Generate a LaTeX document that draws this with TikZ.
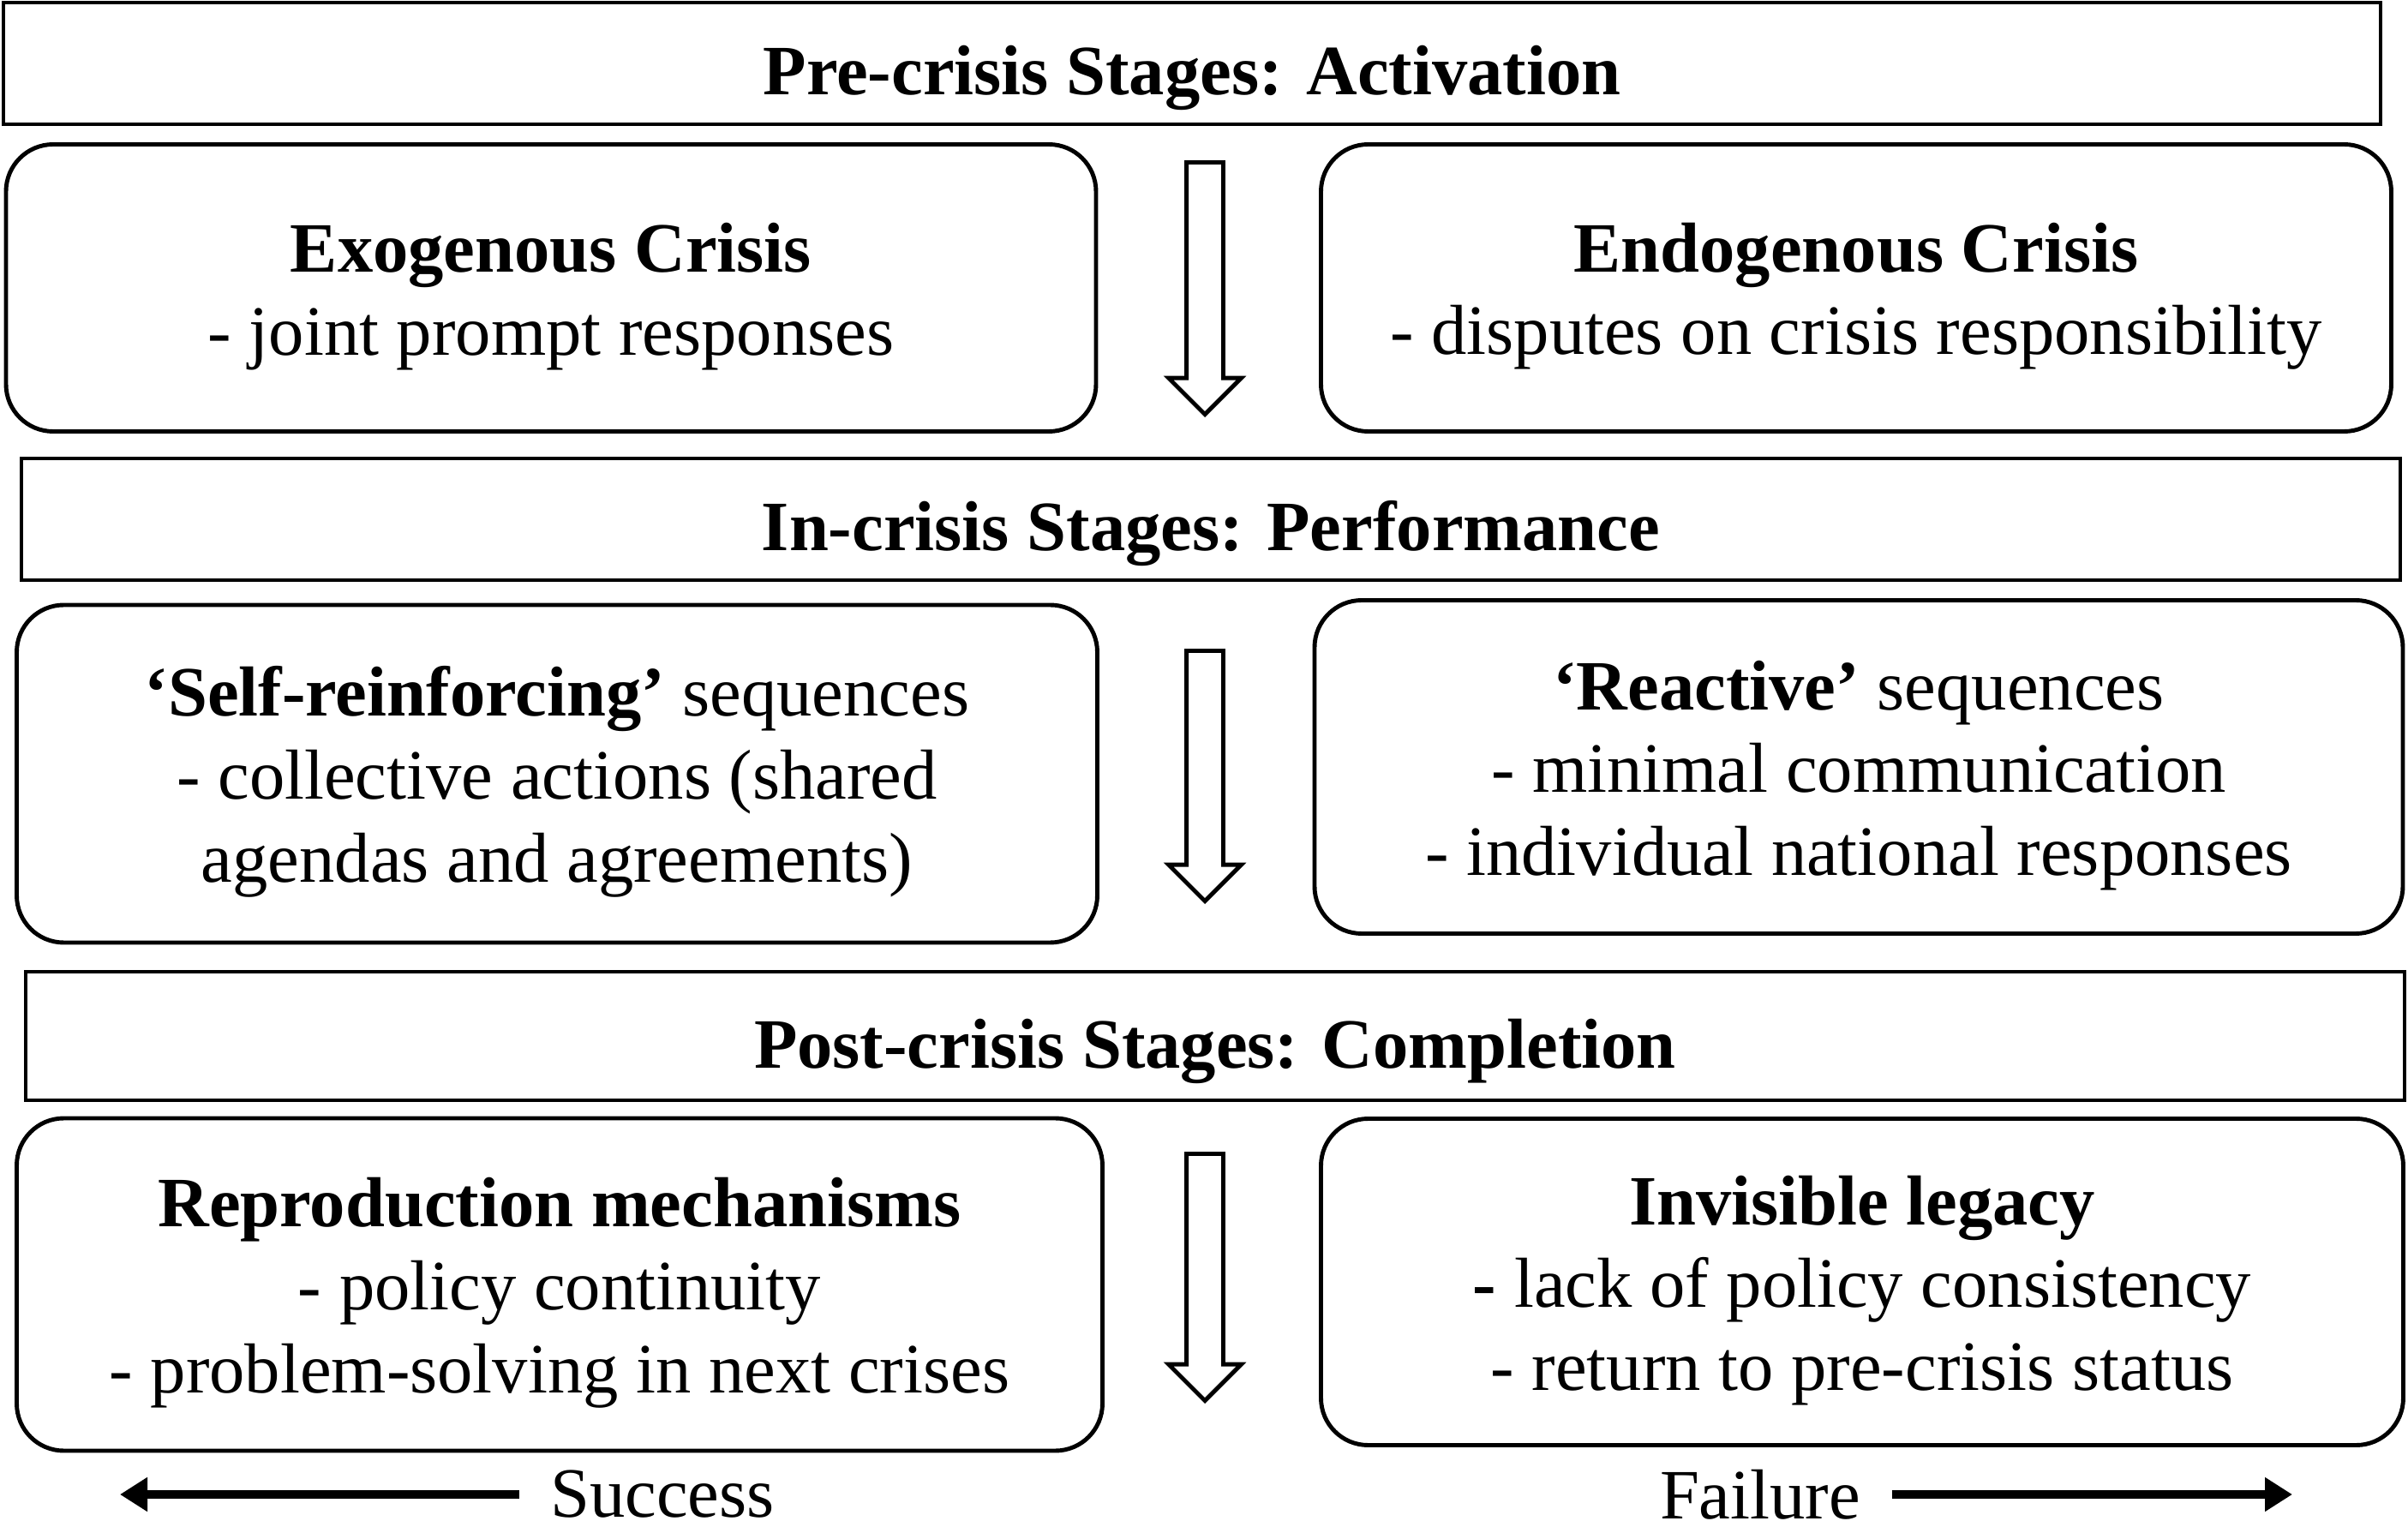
\documentclass[tikz,border=0pt]{standalone}
\usepackage{fontspec}
\setmainfont{Liberation Serif}
\usetikzlibrary{
    shapes.arrows,
    arrows.meta,
    positioning
}
\newcommand{\stagehead}[1]{\rule{0pt}{0.77cm}\textbf{#1}}

\begin{document}
\begin{tikzpicture}[
            font=\fontsize{23.5}{27.5}\selectfont,
            header/.style={draw, line width=1.4pt, inner sep=0pt, font=\fontsize{23.5}{27.5}\selectfont\bfseries,
                           text height=0.74cm, text depth=0cm},
            stage/.style={draw, line width=1.4pt, rounded corners=0.55cm, align=center, inner sep=0pt},
            downarr/.style={draw, line width=1.4pt, single arrow, shape border rotate=270, anchor=tip,
                            single arrow head extend=0.21cm, inner xsep=0.19cm, inner ysep=0pt},
            outcome/.style={inner xsep=0.36cm, inner ysep=0pt},
            flow/.style={-{Triangle[length=0.32cm, width=0.38cm]}, line width=2.6pt}
        ]
            \useasboundingbox (0,0) rectangle (28.1,-17.96);

            % stage headers
            \node[header, minimum width=27.74cm, minimum height=1.42cm] (pre) at (13.91, -0.74)
                {Pre-crisis Stages: Activation};
            \node[header, minimum width=27.76cm, minimum height=1.42cm] (in) at (14.13, -6.06)
                {In-crisis Stages: Performance};
            \node[header, minimum width=27.76cm, minimum height=1.50cm] (post) at (14.18, -12.09)
                {Post-crisis Stages: Completion};

            % pre-crisis
            \node[stage, minimum width=12.72cm, minimum height=3.35cm] (exo) at (6.43, -3.36)
                {\stagehead{Exogenous Crisis}\\
                 - joint prompt responses};
            \node[stage, minimum width=12.49cm, minimum height=3.35cm] (endo) at (21.66, -3.36)
                {\stagehead{Endogenous Crisis}\\
                 - disputes on crisis responsibility};

            % in-crisis
            \node[stage, minimum width=12.61cm, minimum height=3.94cm] (selfreinf) at (6.50, -9.03)
                {\stagehead{‘Self-reinforcing’} sequences\\
                 - collective actions (shared\\
                 agendas and agreements)};
            \node[stage, minimum width=12.70cm, minimum height=3.89cm] (reactive) at (21.69, -8.95)
                {\stagehead{‘Reactive’} sequences\\
                 - minimal communication\\
                 - individual national responses};

            % post-crisis
            \node[stage, minimum width=12.67cm, minimum height=3.88cm] (reprod) at (6.53, -14.99)
                {\stagehead{Reproduction mechanisms}\\
                 - policy continuity\\
                 - problem-solving in next crises};
            \node[stage, minimum width=12.63cm, minimum height=3.81cm] (legacy) at (21.73, -14.96)
                {\stagehead{Invisible legacy}\\
                 \textbf{-} lack of policy consistency\\
                 - return to pre-crisis status};

            % hollow arrows
            \node[downarr, minimum height=2.94cm] (arrpre) at (14.06, -4.87) {};
            \node[downarr, minimum height=2.92cm] (arrin) at (14.06, -10.55) {};
            \node[downarr, minimum height=2.88cm] (arrpost) at (14.06, -16.38) {};

            % outcomes
            \node[outcome] (success) at (7.73, -17.44) {Success};
            \node[outcome] (failure) at (20.54, -17.44) {Failure};
            \coordinate (successend) at (1.40, -17.44);
            \coordinate (failureend) at (26.75, -17.44);
            \draw[flow] (success) -- (successend);
            \draw[flow] (failure) -- (failureend);
        \end{tikzpicture}
\end{document}
